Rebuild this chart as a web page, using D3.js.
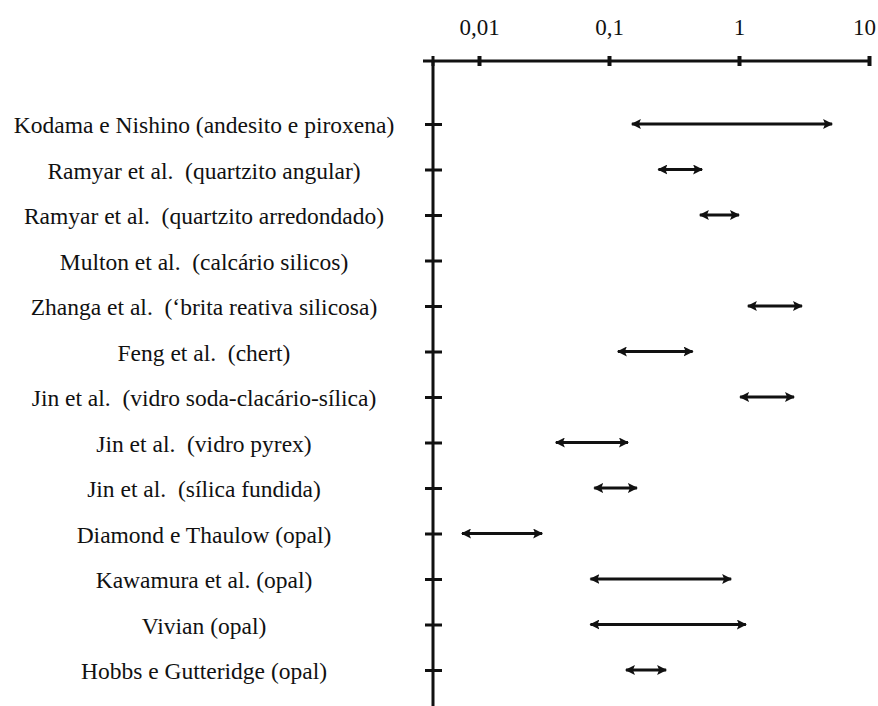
<!DOCTYPE html>
<html><head><meta charset="utf-8">
<script src="https://cdn.jsdelivr.net/npm/d3@7"></script>
<style>
html,body{margin:0;padding:0;background:#fff;}
svg{display:block;}
text{white-space:pre;}
</style></head>
<body>
<svg id="c" width="878" height="706"></svg>
<script>
const categories = [
  "Kodama e Nishino (andesito e piroxena)",
  "Ramyar et al.  (quartzito angular)",
  "Ramyar et al.  (quartzito arredondado)",
  "Multon et al.  (calcário silicos)",
  "Zhanga et al.  (‘brita reativa silicosa)",
  "Feng et al.  (chert)",
  "Jin et al.  (vidro soda-clacário-sílica)",
  "Jin et al.  (vidro pyrex)",
  "Jin et al.  (sílica fundida)",
  "Diamond e Thaulow (opal)",
  "Kawamura et al. (opal)",
  "Vivian (opal)",
  "Hobbs e Gutteridge (opal)"
];
const rangeMin = [0.15, 0.24, 0.50, null, 1.17, 0.117, 1.02, 0.039, 0.077, 0.0074, 0.072, 0.072, 0.135];
const rangeMax = [5.2, 0.52, 1.0, null, 3.05, 0.44, 2.65, 0.140, 0.164, 0.0306, 0.87, 1.13, 0.275];
const tickValues = [0.01, 0.1, 1, 10];
const tickLabels = ["0,01", "0,1", "1", "10"];

const FONT = "Liberation Serif";
const svg = d3.select("#c");
const x = d3.scaleLog().domain([0.01, 10]).range([479, 869]);
const y = d3.scalePoint().domain(categories).range([124, 670]);
const axisX = 433, axisY = 61;

const defs = svg.append("defs");
defs.append("marker").attr("id","ae").attr("viewBox","0 0 10 10").attr("refX",9).attr("refY",5)
  .attr("markerWidth",10).attr("markerHeight",10).attr("markerUnits","userSpaceOnUse").attr("orient","auto")
  .append("path").attr("d","M0,0 L10,5 L0,10 L2,5 Z").attr("fill","#111");
defs.append("marker").attr("id","as").attr("viewBox","0 0 10 10").attr("refX",1).attr("refY",5)
  .attr("markerWidth",10).attr("markerHeight",10).attr("markerUnits","userSpaceOnUse").attr("orient","auto")
  .append("path").attr("d","M10,0 L0,5 L10,10 L8,5 Z").attr("fill","#111");

// top axis
const gx = svg.append("g").attr("transform",`translate(0,${axisY})`)
  .call(d3.axisTop(x).tickValues(tickValues).tickFormat((d,i)=>tickLabels[i]).tickSize(0).tickPadding(26));
gx.attr("font-family",FONT);
gx.select(".domain").remove();
gx.append("line").attr("x1",423).attr("x2",871).attr("stroke","#111").attr("stroke-width",3);
gx.selectAll(".tick line").remove();
gx.selectAll(".tick").append("line").attr("y1",-5).attr("y2",5).attr("stroke","#111").attr("stroke-width",4);
gx.append("line").attr("x1",axisX).attr("x2",axisX).attr("y1",-5).attr("y2",5).attr("stroke","#111").attr("stroke-width",3);
gx.selectAll(".tick text").attr("font-size",23).attr("fill","#111").attr("font-family",FONT);
gx.selectAll(".tick").filter(d=>d===10).select("text").attr("dx",-5);

// left axis
const gy = svg.append("g").attr("transform",`translate(${axisX},0)`)
  .call(d3.axisLeft(y).tickSize(0).tickFormat(""));
gy.select(".domain").remove();
gy.append("line").attr("y1",axisY).attr("y2",706).attr("stroke","#111").attr("stroke-width",3);
gy.selectAll(".tick").append("line").attr("x1",-8).attr("x2",9).attr("stroke","#111").attr("stroke-width",3);

// labels
svg.append("g").attr("font-family",FONT).selectAll("text").data(categories).join("text")
  .attr("x",204).attr("y",d=>y(d)+9).attr("text-anchor","middle")
  .attr("font-family",FONT).attr("fill","#111")
  .attr("font-size",23.5).text(d=>d);

// ranges
const rows = categories.map((c,i)=>({c, lo:rangeMin[i], hi:rangeMax[i]})).filter(r=>r.lo!=null);
svg.append("g").selectAll("line").data(rows).join("line")
  .attr("x1",d=>x(d.lo)).attr("x2",d=>x(d.hi))
  .attr("y1",d=>y(d.c)).attr("y2",d=>y(d.c))
  .attr("stroke","#111").attr("stroke-width",3)
  .attr("marker-start","url(#as)").attr("marker-end","url(#ae)");
</script>
</body></html>
